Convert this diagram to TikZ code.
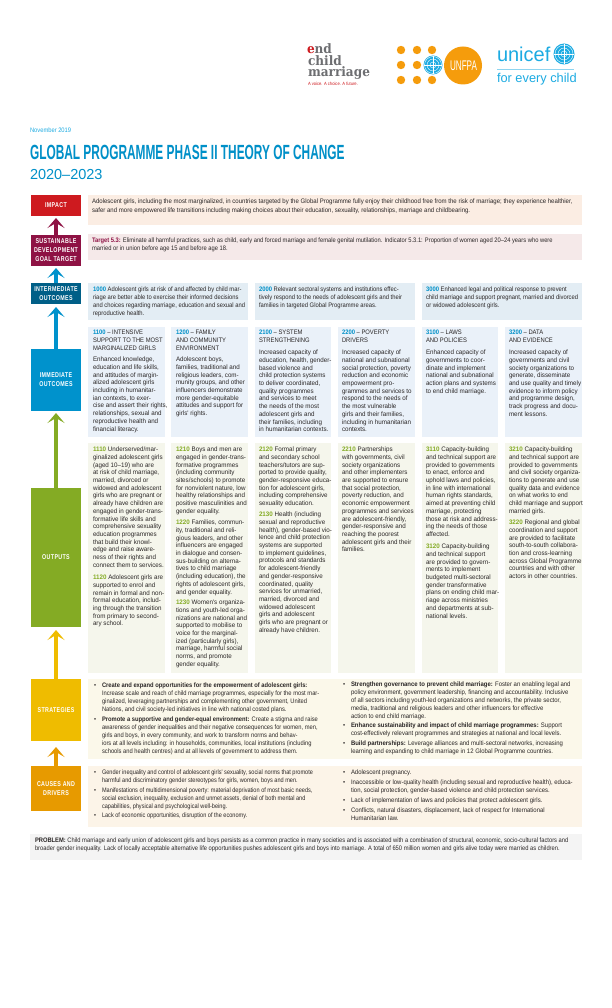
\documentclass[tikz,border=0pt]{standalone}
\usepackage{fontspec}
\usetikzlibrary{arrows.meta}
\setmainfont{Liberation Sans}
\newfontfamily\fwide[FakeStretch=0.96]{Liberation Sans}
\newfontfamily\fmid[FakeStretch=0.9]{Liberation Sans}
\newfontfamily\fnar[FakeStretch=0.89]{Liberation Sans}
\newfontfamily\fimp[FakeStretch=0.93]{Liberation Sans}
\newfontfamily\fcl[FakeStretch=0.86]{Liberation Sans}
\newfontfamily\frt[FakeStretch=0.92]{Liberation Sans}
\newfontfamily\flabel[FakeStretch=0.76,LetterSpace=5]{Liberation Sans}
\newfontfamily\ftitle[FakeStretch=0.58]{Liberation Sans}
\newfontfamily\fslab[FakeStretch=0.93]{DejaVu Serif}
\definecolor{ink}{HTML}{2A2626}
\definecolor{ublue}{HTML}{0090C8}
\definecolor{logoblue}{HTML}{1CABE2}
\definecolor{uorange}{HTML}{F59C0C}
\definecolor{cred}{HTML}{CE1A1F}
\definecolor{cmaroon}{HTML}{8E1244}
\definecolor{cteal}{HTML}{005F87}
\definecolor{cblue}{HTML}{0092CC}
\definecolor{cgreen}{HTML}{84AB24}
\definecolor{cyellow}{HTML}{EFBC00}
\definecolor{corange}{HTML}{E79A00}
\definecolor{bimpact}{HTML}{FBEDE3}
\definecolor{bsdg}{HTML}{F5E9E9}
\definecolor{bio}{HTML}{E3EDF4}
\definecolor{bimm}{HTML}{EAF1F9}
\definecolor{bout}{HTML}{F5F6EC}
\definecolor{bstr}{HTML}{FBF8EA}
\definecolor{bcau}{HTML}{FCF4E8}
\definecolor{bprob}{HTML}{F4F4F4}
\definecolor{lgrey}{HTML}{6D6E71}
\tikzset{
 panel/.style={anchor=north west,inner sep=0pt,outer sep=0pt},
 logotext/.style={anchor=base west,inner sep=0pt,outer sep=0pt},
 tag/.style={panel,minimum width=50pt,text=white,align=center,font=\flabel\bfseries\fontsize{7}{9}\selectfont},
 para/.style={anchor=north west,inner sep=0pt,outer sep=0pt,align=left,text=ink,yshift=3.5pt},
 pw/.style={para,font=\fwide\fontsize{6.5}{7.7}\selectfont},
 pm/.style={para,font=\fmid\fontsize{6.5}{7.9}\selectfont},
 pn/.style={para,font=\fnar\fontsize{6.5}{7.9}\selectfont},
 pi/.style={para,font=\fimp\fontsize{6.5}{8.7}\selectfont},
 pc/.style={para,font=\fcl\fontsize{6.5}{7.9}\selectfont},
 pr/.style={para,font=\frt\fontsize{6.5}{7.9}\selectfont},
 flow/.style={line width=4pt,-{Stealth[length=10pt,width=17pt,inset=5pt]}},
}
\newcommand{\panelbox}[6]{\node[panel,fill=#6,minimum width=#4 pt,minimum height=#5 pt] (#1) at (#2,#3) {};}
\newcommand{\ptag}[5]{\node[tag,fill=#4,minimum height=#3 pt] (#1) at (31,#2) {#5};}
\newcommand{\txt}[5]{\node[#5] (#1) at (#2,#3) {\rule{0pt}{5.2pt}#4};}
\newcommand{\bul}[5]{\node[#5] (#1) at (#2,#3) {\rule{0pt}{5.2pt}•};\node[#5] (#1t) at ({#2+8},#3) {\rule{0pt}{5.2pt}#4};}
\newcommand{\numb}[1]{\textcolor{ublue}{\bfseries #1}}
\newcommand{\numg}[1]{\textcolor{cgreen}{\bfseries #1}}
\begin{document}
\begin{tikzpicture}[x=1pt,y=-1pt]
\useasboundingbox (0,0) rectangle (612,1008);
\fill[white] (0,0) rectangle (612,1008);

% logos
\node[logotext,text=cred,font=\fslab\bfseries\fontsize{13}{13}\selectfont] (lgend) at (307,54) {e\textcolor{lgrey}{nd}};
\node[logotext,text=lgrey,font=\fslab\bfseries\fontsize{13}{13}\selectfont] (lgchild) at (308,66) {child};
\node[logotext,text=lgrey,font=\fslab\bfseries\fontsize{13}{13}\selectfont] (lgmar) at (308,77) {marriage};
\node[logotext,text=cred,font=\fnar\fontsize{4.6}{5}\selectfont] (lgvoice) at (308,85.5) {A voice. A choice. A future.};
\foreach \dx in {401,417,432}{\foreach \dy in {50,65,80}{\fill[uorange] (\dx,\dy) circle (4.2);}}
\fill[uorange] (463,65.5) circle (19);
\fill[white] (433,65) circle (10);
\fill[logoblue] (433,65) circle (9.5);
\foreach \r in {3,6,8.5}{\draw[white,line width=.4pt] (433,65) circle (\r);}
\draw[white,line width=.4pt] (424,65) -- (442,65) (433,56) -- (433,74);
\node[anchor=center,inner sep=0pt,text=white,font=\ftitle\fontsize{14}{14}\selectfont] (lgunfpa) at (463.5,65.5) {UNFPA};
\node[logotext,text=logoblue,font=\fontsize{20}{20}\selectfont] (lgunicef) at (497,62) {unicef};
\fill[logoblue] (564,54) circle (10.5);
\foreach \r in {3,6,9}{\draw[white,line width=.4pt] (564,54) circle (\r);}
\draw[white,line width=.4pt] (554,54) -- (574,54) (564,44) -- (564,64);
\draw[logoblue!50,line width=.6pt] (497,69) -- (574,69);
\node[logotext,text=logoblue,font=\fontsize{12.8}{13}\selectfont] (lgfor) at (497,83) {for every child};

% heading
\node[logotext,text=logoblue,font=\fnar\fontsize{6.5}{7}\selectfont] (date) at (30,133) {November 2019};
\node[logotext,text=ublue,font=\ftitle\bfseries\fontsize{20.5}{21}\selectfont] (title) at (30,160) {GLOBAL PROGRAMME PHASE II THEORY OF CHANGE};
\node[logotext,text=ublue,font=\fontsize{14.5}{15}\selectfont] (years) at (30,179.5) {2020–2023};

% left labels
\ptag{impact}{195}{21}{cred}{IMPACT}
\ptag{sdg}{235}{31}{cmaroon}{SUSTAINABLE\\DEVELOPMENT\\GOAL TARGET}
\ptag{io}{283}{21}{cteal}{INTERMEDIATE\\OUTCOMES}
\ptag{imm}{349}{62}{cblue}{IMMEDIATE\\OUTCOMES}
\ptag{out}{488}{139}{cgreen}{OUTPUTS}
\ptag{str}{679}{62}{cyellow}{STRATEGIES}
\ptag{cau}{766}{45}{corange}{CAUSES AND\\DRIVERS}

% flow arrows
\draw[flow,cmaroon,shorten >=2pt] (sdg.north) -- (impact.south);
\draw[flow,cblue,shorten >=2pt] (io.north) -- (sdg.south);
\draw[flow,cblue,shorten >=3pt] (imm.north) -- (io.south);
\draw[flow,cgreen,shorten >=2pt] (out.north) -- (imm.south);
\draw[flow,cyellow,shorten >=3pt] (str.north) -- (out.south);
\draw[flow,corange,shorten >=6pt] (cau.north) -- (str.south);

% panels
\panelbox{pimpact}{88}{195}{494}{30}{bimpact}
\panelbox{psdg}{88}{234}{494}{26}{bsdg}
\panelbox{pio1}{88}{283}{160}{37}{bio}
\panelbox{pio2}{255}{283}{160}{37}{bio}
\panelbox{pio3}{422}{283}{160}{37}{bio}
\panelbox{pim1}{88}{327}{77}{110}{bimm}
\panelbox{pim2}{171}{327}{77}{110}{bimm}
\panelbox{pim3}{255}{327}{76}{110}{bimm}
\panelbox{pim4}{338}{327}{77}{110}{bimm}
\panelbox{pim5}{422}{327}{76}{110}{bimm}
\panelbox{pim6}{505}{327}{77}{110}{bimm}
\panelbox{pou1}{88}{443}{77}{230}{bout}
\panelbox{pou2}{171}{443}{77}{230}{bout}
\panelbox{pou3}{255}{443}{76}{230}{bout}
\panelbox{pou4}{338}{443}{77}{230}{bout}
\panelbox{pou5}{422}{443}{76}{230}{bout}
\panelbox{pou6}{505}{443}{77}{230}{bout}
\panelbox{pstr}{88}{679}{494}{80}{bstr}
\panelbox{pcau}{88}{766}{494}{61}{bcau}
\panelbox{pprob}{30}{834}{552}{26}{bprob}

% impact and target
\txt{timpact}{92}{202}{Adolescent girls, including the most marginalized, in countries targeted by the Global Programme fully enjoy their childhood free from the risk of marriage; they experience healthier,\\safer and more empowered life transitions including making choices about their education, sexuality, relationships, marriage and childbearing.}{pi}
\txt{tsdg}{92}{241}{\textcolor{cmaroon}{\bfseries Target 5.3:} Eliminate all harmful practices, such as child, early and forced marriage and female genital mutilation. Indicator 5.3.1: Proportion of women aged 20–24 years who were\\married or in union before age 15 and before age 18.}{pn}

% intermediate
\txt{tio1}{93}{290}{\numb{1000} Adolescent girls at risk of and affected by child mar-\\riage are better able to exercise their informed decisions\\and choices regarding marriage, education and sexual and\\reproductive health.}{pm}
\txt{tio2}{259}{290}{\numb{2000} Relevant sectoral systems and institutions effec-\\tively respond to the needs of adolescent girls and their\\families in targeted Global Programme areas.}{pm}
\txt{tio3}{426}{290}{\numb{3000} Enhanced legal and political response to prevent\\child marriage and support pregnant, married and divorced\\or widowed adolescent girls.}{pm}

% immediate
\txt{ti1h}{93}{333}{\numb{1100} – INTENSIVE\\SUPPORT TO THE MOST\\MARGINALIZED GIRLS}{pm}
\txt{ti1}{93}{360}{Enhanced knowledge,\\education and life skills,\\and attitudes of margin-\\alized adolescent girls\\including in humanitar-\\ian contexts, to exer-\\cise and assert their rights,\\relationships, sexual and\\reproductive health and\\financial literacy.}{pw}
\txt{ti2h}{176}{333}{\numb{1200} – FAMILY\\AND COMMUNITY\\ENVIRONMENT}{pm}
\txt{ti2}{176}{360}{Adolescent boys,\\families, traditional and\\religious leaders, com-\\munity groups, and other\\influencers demonstrate\\more gender-equitable\\attitudes and support for\\girls' rights.}{pw}
\txt{ti3h}{259}{333}{\numb{2100} – SYSTEM\\STRENGTHENING}{pm}
\txt{ti3}{259}{353}{Increased capacity of\\education, health, gender-\\based violence and\\child protection systems\\to deliver coordinated,\\quality programmes\\and services to meet\\the needs of the most\\adolescent girls and\\their families, including\\in humanitarian contexts.}{pw}
\txt{ti4h}{342}{333}{\numb{2200} – POVERTY\\DRIVERS}{pm}
\txt{ti4}{342}{353}{Increased capacity of\\national and subnational\\social protection, poverty\\reduction and economic\\empowerment pro-\\grammes and services to\\respond to the needs of\\the most vulnerable\\girls and their families,\\including in humanitarian\\contexts.}{pw}
\txt{ti5h}{426}{333}{\numb{3100} – LAWS\\AND POLICIES}{pm}
\txt{ti5}{426}{353}{Enhanced capacity of\\governments to coor-\\dinate and implement\\national and subnational\\action plans and systems\\to end child marriage.}{pw}
\txt{ti6h}{509}{333}{\numb{3200} – DATA\\AND EVIDENCE}{pm}
\txt{ti6}{509}{353}{Increased capacity of\\governments and civil\\society organizations to\\generate, disseminate\\and use quality and timely\\evidence to inform policy\\and programme design,\\track progress and docu-\\ment lessons.}{pw}

% outputs
\txt{to1}{93}{450}{\numg{1110} Underserved/mar-\\ginalized adolescent girls\\(aged 10–19) who are\\at risk of child marriage,\\married, divorced or\\widowed and adolescent\\girls who are pregnant or\\already have children are\\engaged in gender-trans-\\formative life skills and\\comprehensive sexuality\\education programmes\\that build their knowl-\\edge and raise aware-\\ness of their rights and\\connect them to services.}{pw}
\txt{to1b}{93}{578}{\numg{1120} Adolescent girls are\\supported to enrol and\\remain in formal and non-\\formal education, includ-\\ing through the transition\\from primary to second-\\ary school.}{pw}
\txt{to2}{176}{450}{\numg{1210} Boys and men are\\engaged in gender-trans-\\formative programmes\\(including community\\sites/schools) to promote\\for nonviolent nature, low\\healthy relationships and\\positive masculinities and\\gender equality.}{pw}
\txt{to2b}{176}{523}{\numg{1220} Families, commun-\\ity, traditional and reli-\\gious leaders, and other\\influencers are engaged\\in dialogue and consen-\\sus-building on alterna-\\tives to child marriage\\(including education), the\\rights of adolescent girls,\\and gender equality.}{pw}
\txt{to2c}{176}{603}{\numg{1230} Women's organiza-\\tions and youth-led orga-\\nizations are national and\\supported to mobilise to\\voice for the marginal-\\ized (particularly girls),\\marriage, harmful social\\norms, and promote\\gender equality.}{pw}
\txt{to3}{259}{450}{\numg{2120} Formal primary\\and secondary school\\teachers/tutors are sup-\\ported to provide quality,\\gender-responsive educa-\\tion for adolescent girls,\\including comprehensive\\sexuality education.}{pw}
\txt{to3b}{259}{515}{\numg{2130} Health (including\\sexual and reproductive\\health), gender-based vio-\\lence and child protection\\systems are supported\\to implement guidelines,\\protocols and standards\\for adolescent-friendly\\and gender-responsive\\coordinated, quality\\services for unmarried,\\married, divorced and\\widowed adolescent\\girls and adolescent\\girls who are pregnant or\\already have children.}{pw}
\txt{to4}{342}{450}{\numg{2210} Partnerships\\with governments, civil\\society organizations\\and other implementers\\are supported to ensure\\that social protection,\\poverty reduction, and\\economic empowerment\\programmes and services\\are adolescent-friendly,\\gender-responsive and\\reaching the poorest\\adolescent girls and their\\families.}{pw}
\txt{to5}{426}{450}{\numg{3110} Capacity-building\\and technical support are\\provided to governments\\to enact, enforce and\\uphold laws and policies,\\in line with international\\human rights standards,\\aimed at preventing child\\marriage, protecting\\those at risk and address-\\ing the needs of those\\affected.}{pw}
\txt{to5b}{426}{547}{\numg{3120} Capacity-building\\and technical support\\are provided to govern-\\ments to implement\\budgeted multi-sectoral\\gender transformative\\plans on ending child mar-\\riage across ministries\\and departments at sub-\\national levels.}{pw}
\txt{to6}{509}{450}{\numg{3210} Capacity-building\\and technical support are\\provided to governments\\and civil society organiza-\\tions to generate and use\\quality data and evidence\\on what works to end\\child marriage and support\\married girls.}{pw}
\txt{to6b}{509}{523}{\numg{3220} Regional and global\\coordination and support\\are provided to facilitate\\south-to-south collabora-\\tion and cross-learning\\across Global Programme\\countries and with other\\actors in other countries.}{pw}

% strategies
\bul{s1}{94}{686}{\textbf{Create and expand opportunities for the empowerment of adolescent girls:}\\Increase scale and reach of child marriage programmes, especially for the most mar-\\ginalized, leveraging partnerships and complementing other government, United\\Nations, and civil society-led initiatives in line with national costed plans.}{pn}
\bul{s2}{94}{720}{\textbf{Promote a supportive and gender-equal environment:} Create a stigma and raise\\awareness of gender inequalities and their negative consequences for women, men,\\girls and boys, in every community, and work to transform norms and behav-\\iors at all levels including: in households, communities, local institutions (including\\schools and health centres) and at all levels of government to address them.}{pn}
\bul{s3}{343}{685}{\textbf{Strengthen governance to prevent child marriage:} Foster an enabling legal and\\policy environment, government leadership, financing and accountability. Inclusive\\of all sectors including youth-led organizations and networks, the private sector,\\media, traditional and religious leaders and other influencers for effective\\action to end child marriage.}{pr}
\bul{s4}{343}{726}{\textbf{Enhance sustainability and impact of child marriage programmes:} Support\\cost-effectively relevant programmes and strategies at national and local levels.}{pr}
\bul{s5}{343}{744}{\textbf{Build partnerships:} Leverage alliances and multi-sectoral networks, increasing\\learning and expanding to child marriage in 12 Global Programme countries.}{pr}

% causes
\bul{c1}{94}{773}{Gender inequality and control of adolescent girls' sexuality, social norms that promote\\harmful and discriminatory gender stereotypes for girls, women, boys and men.}{pc}
\bul{c2}{94}{791}{Manifestations of multidimensional poverty: material deprivation of most basic needs,\\social exclusion, inequality, exclusion and unmet assets, denial of both mental and\\capabilities, physical and psychological well-being.}{pc}
\bul{c3}{94}{816}{Lack of economic opportunities, disruption of the economy.}{pc}
\bul{c4}{343}{773}{Adolescent pregnancy.}{pr}
\bul{c5}{343}{783}{Inaccessible or low-quality health (including sexual and reproductive health), educa-\\tion, social protection, gender-based violence and child protection services.}{pr}
\bul{c6}{343}{801}{Lack of implementation of laws and policies that protect adolescent girls.}{pr}
\bul{c7}{343}{811}{Conflicts, natural disasters, displacement, lack of respect for International\\Humanitarian law.}{pr}

% problem
\txt{tprob}{35}{841}{\textbf{PROBLEM:} Child marriage and early union of adolescent girls and boys persists as a common practice in many societies and is associated with a combination of structural, economic, socio-cultural factors and\\broader gender inequality. Lack of locally acceptable alternative life opportunities pushes adolescent girls and boys into marriage. A total of 650 million women and girls alive today were married as children.}{pn}
\end{tikzpicture}
\end{document}
